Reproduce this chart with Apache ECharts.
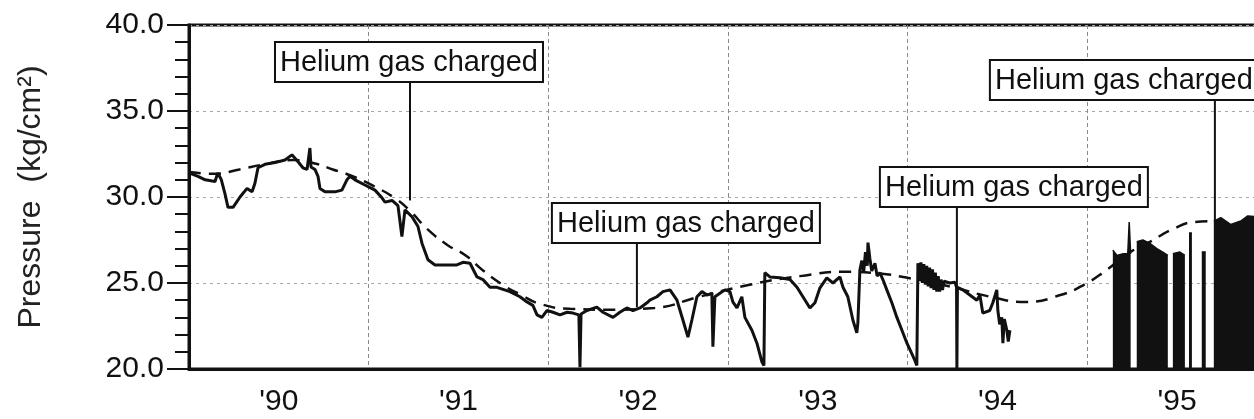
<!DOCTYPE html>
<html>
<head>
<meta charset="utf-8">
<script src="https://cdn.jsdelivr.net/npm/echarts@6/dist/echarts.min.js"></script>
<style>
  html, body { margin: 0; padding: 0; background: #fff; }
  #chart { width: 1254px; height: 419px; }
</style>
</head>
<body>
<div id="chart"></div>
<script>
// Year tick labels, placed in the middle of each year
const yearLabels = ["'90", "'91", "'92", "'93", "'94", "'95"];

// Measured accumulator pressure (kg/cm2), time in decimal years
const pressureT = [
  1990.000, 1990.050, 1990.090, 1990.145, 1990.160, 1990.180, 1990.200, 1990.217, 1990.245, 1990.284,
  1990.323, 1990.351, 1990.367, 1990.384, 1990.423, 1990.479, 1990.534, 1990.573, 1990.607, 1990.634,
  1990.657, 1990.673, 1990.679, 1990.701, 1990.718, 1990.729, 1990.757, 1990.812, 1990.851, 1990.879,
  1990.896, 1990.924, 1990.979, 1991.035, 1991.074, 1991.091, 1991.130, 1991.163, 1991.185, 1991.202,
  1991.241, 1991.274, 1991.297, 1991.330, 1991.369, 1991.436, 1991.491, 1991.525, 1991.564, 1991.603,
  1991.636, 1991.675, 1991.714, 1991.786, 1991.842, 1991.881, 1991.914, 1991.937, 1991.964, 1991.992,
  1992.026, 1992.065, 1992.104, 1992.137, 1992.170, 1992.176, 1992.182, 1992.215, 1992.270, 1992.304,
  1992.360, 1992.398, 1992.437, 1992.471, 1992.510, 1992.549, 1992.565, 1992.604, 1992.638, 1992.677,
  1992.716, 1992.749, 1992.777, 1992.799, 1992.827, 1992.855, 1992.883, 1992.910, 1992.916, 1992.927,
  1992.955, 1992.983, 1993.011, 1993.027, 1993.050, 1993.077, 1993.094, 1993.133, 1993.161, 1993.189,
  1993.200, 1993.205, 1993.233, 1993.289, 1993.345, 1993.384, 1993.417, 1993.456, 1993.484, 1993.511,
  1993.550, 1993.584, 1993.623, 1993.640, 1993.667, 1993.695, 1993.717, 1993.723, 1993.734, 1993.745,
  1993.755, 1993.765, 1993.775, 1993.779, 1993.790, 1993.800, 1993.818, 1993.830, 1993.845, 1993.862,
  1993.884, 1993.912, 1993.940, 1993.968, 1993.996, 1994.023, 1994.040, 1994.051, 1994.057, 1994.066,
  1994.074, 1994.082, 1994.090, 1994.098, 1994.106, 1994.114, 1994.122, 1994.130, 1994.138, 1994.146,
  1994.154, 1994.162, 1994.170, 1994.178, 1994.186, 1994.194, 1994.202, 1994.235,
  1994.263, 1994.272, 1994.274, 1994.277, 1994.307, 1994.346, 1994.385, 1994.402, 1994.418, 1994.457,
  1994.474, 1994.496, 1994.502, 1994.512, 1994.524, 1994.530, 1994.538, 1994.552, 1994.560, 1994.569
];
const pressureP = [
  31.4, 31.2, 31.0, 30.9, 31.4, 31.0, 30.2, 29.4, 29.4, 30.0,
  30.5, 30.3, 30.8, 31.7, 31.9, 32.0, 32.15, 32.45, 32.05, 31.7,
  31.6, 32.85, 31.75, 31.6, 31.2, 30.5, 30.3, 30.3, 30.4, 31.0,
  31.2, 31.0, 30.7, 30.4, 29.95, 29.7, 29.8, 29.5, 27.7, 29.25,
  28.85, 28.3, 27.3, 26.35, 26.05, 26.05, 26.05, 26.2, 26.15, 25.35,
  25.2, 24.75, 24.75, 24.5, 24.2, 23.9, 23.7, 23.15, 23.0, 23.4,
  23.3, 23.15, 23.3, 23.25, 23.15, 20.1, 23.2, 23.4, 23.6, 23.3,
  23.0, 23.3, 23.55, 23.4, 23.55, 23.85, 24.0, 24.2, 24.5, 24.6,
  24.0, 22.85, 21.85, 22.85, 24.2, 24.5, 24.3, 24.4, 21.3, 24.2,
  24.4, 24.6, 24.5, 23.9, 23.55, 24.2, 23.0, 22.25, 21.5, 20.4,
  20.2, 25.6, 25.35, 25.3, 25.2, 24.75, 24.2, 23.55, 23.85, 24.7,
  25.3, 25.0, 25.35, 24.75, 24.2, 22.85, 22.1, 22.7, 25.75, 26.3,
  25.6, 26.8, 26.0, 27.35, 26.4, 25.7, 26.15, 25.4, 25.6, 25.2,
  24.6, 23.85, 23.0, 22.25, 21.5, 20.9, 20.5, 20.2, 26.15, 25.2,
  26.2, 25.0, 26.1, 24.9, 26.0, 24.8, 25.9, 24.7, 25.8, 24.6,
  25.6, 24.5, 25.4, 24.5, 25.2, 24.6, 25.1, 25.0,
  25.05, 24.75, 20.0, 24.75, 24.6, 24.3, 24.0, 24.3, 23.25, 23.4,
  23.85, 24.6, 23.4, 22.6, 23.0, 21.5, 22.9, 22.25, 21.6, 22.25
];

// Densely sampled record from late 1994 ('-' marks gaps with no record)
const denseT = [
  1995.142, 1995.165, 1995.200, 1995.225, 1995.233, 1995.241, 1995.245,
  1995.275, 1995.309, 1995.348, 1995.387, 1995.420, 1995.448, 1995.460,
  1995.476, 1995.515, 1995.543, 1995.555,
  1995.566, 1995.582, 1995.600,
  1995.637, 1995.659, 1995.680,
  1995.704, 1995.743, 1995.799, 1995.854, 1995.893, 1996.000
];
const denseP = [
  26.9, 26.6, 26.7, 26.7, 28.55, 26.7, '-',
  27.4, 27.5, 27.3, 27.0, 26.8, 26.6, '-',
  26.7, 26.8, 26.6, '-',
  27.9, 27.9, '-',
  26.8, 26.8, '-',
  28.6, 28.8, 28.4, 28.6, 28.9, 28.8
];

// Long-term trend of the pressure (dashed curve)
const trendT = [
  1990.000, 1990.145, 1990.280, 1990.420, 1990.580, 1990.700, 1990.800, 1990.900, 1991.035, 1991.150,
  1991.230, 1991.330, 1991.440, 1991.540, 1991.640, 1991.760, 1991.850, 1991.950, 1992.120, 1992.340,
  1992.590, 1992.840, 1993.120, 1993.400, 1993.650, 1993.845, 1994.000, 1994.235, 1994.460, 1994.660,
  1994.850, 1994.990, 1995.100, 1995.240, 1995.350, 1995.470, 1995.600, 1995.720
];
const trendP = [
  31.45, 31.35, 31.6, 31.9, 32.15, 31.95, 31.6, 31.25, 30.6, 29.9,
  29.2, 28.1, 27.2, 26.6, 25.7, 24.8, 24.3, 23.8, 23.5, 23.45,
  23.55, 24.2, 24.9, 25.4, 25.65, 25.55, 25.3, 24.8, 24.2, 23.9,
  24.3, 24.95, 25.7, 26.8, 27.4, 28.1, 28.55, 28.6
];

// Helium charging events: time and the pressure where the pointer lands
const chargeT = [1991.23, 1992.493, 1994.274, 1995.71];
const chargeP = [29.8, 23.6, 24.75, 28.6];
const chargeText = 'Helium gas charged';

// Placement of each callout box relative to its pointer (px)
const calloutLayout = [
  { dx: -135, top: 42 },
  { dx: -85, top: 203 },
  { dx: -77, top: 167 },
  { dx: -225, top: 60 }
];

const ink = '#111';
const font = 'Liberation Sans, Arial, Helvetica, sans-serif';
const zip = (a, b) => a.map((v, i) => [v, b[i]]);

const chart = echarts.init(document.getElementById('chart'), null, { renderer: 'canvas' });

chart.setOption({
  animation: false,
  backgroundColor: '#fff',
  grid: {
    left: 189, top: 25, width: 1078, height: 344,
    containLabel: false,
    outerBoundsMode: 'none',
    show: true, borderColor: ink, borderWidth: 3, backgroundColor: 'transparent'
  },
  xAxis: [
    {
      type: 'value', min: 1990, max: 1996, interval: 1, position: 'bottom',
      axisLine: { show: true, onZero: false, lineStyle: { color: ink, width: 3 } },
      axisTick: { show: false },
      axisLabel: { show: false },
      splitLine: { show: true, lineStyle: { color: '#8a8a8a', width: 1, type: [4, 3] } }
    },
    {
      type: 'value', min: 1990, max: 1996, interval: 0.5, position: 'bottom',
      axisLine: { show: false },
      axisTick: { show: false },
      splitLine: { show: false },
      axisLabel: {
        margin: 18, fontSize: 30, fontFamily: font, color: ink,
        formatter: v => {
          const k = Math.round(v * 2);
          return k % 2 === 1 ? (yearLabels[(k - 3981) / 2] || '') : '';
        }
      }
    }
  ],
  yAxis: {
    type: 'value', min: 20, max: 40, interval: 5,
    axisLine: { show: true, onZero: false, lineStyle: { color: ink, width: 3 } },
    axisTick: { show: true, length: 22, lineStyle: { color: ink, width: 2 } },
    minorTick: { show: true, splitNumber: 5, length: 14, lineStyle: { color: ink, width: 2 } },
    axisLabel: {
      margin: 25, fontSize: 30, fontFamily: font, color: ink,
      formatter: v => v.toFixed(1)
    },
    splitLine: { show: true, lineStyle: { color: '#a8a8a8', width: 1, type: [3, 4] } },
    name: 'Pressure  (kg/cm²)',
    nameLocation: 'middle',
    nameGap: 142,
    nameTextStyle: { fontSize: 32, fontFamily: font, color: '#222' }
  },
  series: [
    {
      name: 'Trend',
      type: 'line',
      data: zip(trendT, trendP),
      smooth: true,
      showSymbol: false,
      lineStyle: { color: ink, width: 2.5, type: [12, 8] },
      z: 2
    },
    {
      name: 'Pressure',
      type: 'line',
      data: zip(pressureT, pressureP),
      showSymbol: false,
      lineStyle: { color: ink, width: 3 },
      z: 3
    },
    {
      name: 'Pressure (dense)',
      type: 'line',
      data: zip(denseT, denseP),
      showSymbol: false,
      connectNulls: false,
      lineStyle: { color: ink, width: 1.5 },
      areaStyle: { color: ink, opacity: 1, origin: 'start' },
      z: 3
    },
    {
      name: 'Helium charging',
      type: 'custom',
      clip: false,
      z: 5,
      data: zip(chargeT, chargeP),
      renderItem: (params, api) => {
        const p = api.coord([api.value(0), api.value(1)]);
        const L = calloutLayout[params.dataIndex];
        const bw = 268, bh = 40;
        const bx = p[0] + L.dx, by = L.top;
        return {
          type: 'group',
          children: [
            { type: 'line', shape: { x1: p[0], y1: by + bh, x2: p[0], y2: p[1] },
              style: { stroke: ink, lineWidth: 2 } },
            { type: 'rect', shape: { x: bx, y: by, width: bw, height: bh },
              style: { fill: '#fff', stroke: ink, lineWidth: 2 } },
            { type: 'text',
              style: { text: chargeText, x: bx + bw / 2, y: by + bh / 2 + 1,
                       align: 'center', verticalAlign: 'middle',
                       fontSize: 29, fontFamily: font, fill: ink } }
          ]
        };
      }
    }
  ]
});
</script>
</body>
</html>
